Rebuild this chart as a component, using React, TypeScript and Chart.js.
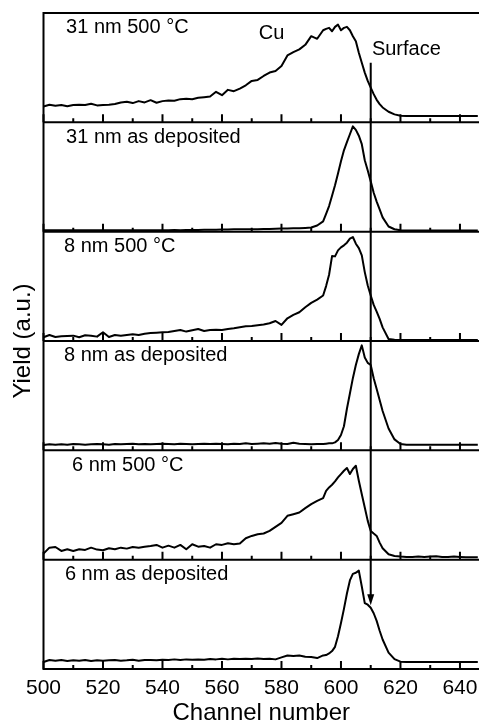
import React, { useEffect, useRef } from 'react';
import { Chart, registerables } from 'chart.js';

Chart.register(...registerables);

const FONT = '"Liberation Sans", Arial, Helvetica, sans-serif';

// Channel numbers (x values shared by all spectra)
const channels = [
  500, 502, 504, 506, 508, 510, 512, 514, 516, 518,
  520, 522, 524, 526, 528, 530, 532, 534, 536, 538,
  540, 542, 544, 546, 548, 550, 552, 554, 556, 558,
  560, 562, 564, 566, 568, 570, 572, 574, 576, 578,
  580, 582, 584, 586, 588, 590, 592, 594,
  595, 596, 597, 598, 599, 600, 601, 602, 603, 604,
  605, 606, 607, 608, 609, 610, 611, 612, 613, 614,
  616, 618, 620, 622, 624, 626, 628, 630, 632, 634,
  636, 638, 640, 642, 644, 646,
];

// Yield (a.u., % of each panel height)
const nm31Annealed = [
  14.5, 16.1, 15.2, 15.8, 14.8, 15.8, 16.1, 15.8, 17.0, 15.5,
  15.8, 16.1, 16.7, 18.2, 18.8, 17.6, 19.4, 18.2, 20.3, 17.9,
  19.4, 20.0, 19.7, 21.2, 21.5, 21.2, 22.4, 23.0, 23.6, 27.9,
  24.8, 29.7, 28.5, 30.9, 33.9, 37.9, 38.8, 42.4, 45.5, 47.0,
  51.5, 61.2, 64.2, 66.7, 70.9, 78.8, 76.4, 84.2,
  85.5, 86.4, 83.3, 87.3, 89.4, 84.2, 86.4, 87.3, 84.2, 78.8,
  74.2, 63.6, 54.5, 45.5, 37.9, 31.8, 25.8, 20.6, 16.7, 13.6,
  9.7, 7.3, 6.1, 5.8, 5.8, 5.8, 5.8, 5.8, 5.8, 5.8,
  5.8, 5.8, 5.8, 5.8, 5.8, 5.8,
];

const nm31Deposited = [
  1.2, 1.3, 1.2, 1.4, 1.3, 1.2, 1.3, 1.4, 1.3, 1.2,
  1.3, 1.4, 1.3, 1.3, 1.2, 1.4, 1.3, 1.3, 1.4, 1.3,
  1.4, 1.3, 1.5, 1.4, 1.5, 1.6, 1.6, 1.7, 1.8, 1.8,
  1.9, 2.0, 2.1, 2.1, 2.2, 2.2, 2.3, 2.4, 2.5, 2.6,
  2.8, 2.8, 3.1, 3.1, 3.4, 3.8, 5.6, 9.4,
  16.3, 23.4, 32.8, 42.5, 53.1, 64.4, 74.4, 81.9, 89.1, 96.3,
  93.1, 87.8, 80.0, 65.3, 56.0, 46.0, 35.6, 27.5, 20.3, 13.1,
  4.7, 2.2, 1.3, 1.1, 1.0, 1.0, 1.0, 1.0, 1.0, 1.0,
  1.0, 1.0, 1.0, 1.0, 1.0, 1.0,
];

const nm8Annealed = [
  3.4, 5.5, 3.7, 4.3, 4.6, 4.9, 3.4, 5.2, 4.9, 4.0,
  8.0, 3.7, 5.5, 4.9, 5.5, 6.1, 5.5, 6.7, 7.3, 7.6,
  8.0, 8.3, 9.2, 10.1, 8.6, 9.8, 11.0, 9.2, 10.1, 10.4,
  10.1, 11.0, 11.6, 12.5, 13.5, 13.8, 14.4, 15.0, 16.2, 18.3,
  14.7, 20.8, 23.9, 26.3, 30.9, 34.9, 37.9, 41.6,
  50.2, 60.6, 77.7, 77.4, 82.9, 85.6, 87.5, 89.9, 93.6, 95.1,
  89.0, 85.0, 78.3, 63.0, 50.8, 41.6, 33.0, 26.9, 20.2, 12.5,
  1.8, 1.2, 0.9, 0.9, 0.9, 0.9, 0.9, 0.9, 0.9, 0.9,
  0.9, 0.9, 0.9, 0.9, 0.9, 0.9,
];

const nm8Deposited = [
  4.8, 5.5, 5.2, 5.5, 5.2, 5.8, 5.5, 5.2, 5.5, 5.8,
  5.5, 5.2, 5.8, 5.5, 5.8, 6.1, 5.5, 5.8, 5.5, 5.8,
  6.1, 5.8, 5.5, 6.1, 5.8, 5.5, 5.8, 6.1, 5.8, 6.1,
  5.8, 5.5, 6.1, 5.8, 6.4, 5.8, 6.1, 6.4, 6.1, 6.7,
  6.1, 5.8, 7.0, 6.1, 5.8, 5.5, 5.8, 5.8,
  6.1, 6.4, 6.4, 7.3, 9.4, 14.0, 22.0, 38.0, 52.0, 66.0,
  78.0, 88.0, 96.0, 85.0, 80.0, 78.0, 66.0, 56.0, 46.0, 36.0,
  20.0, 10.0, 5.8, 5.2, 5.2, 5.2, 5.2, 5.2, 5.2, 5.2,
  5.2, 5.2, 5.2, 5.2, 5.2, 5.2,
];

const nm6Annealed = [
  5.5, 11.0, 11.6, 8.0, 9.5, 8.0, 9.5, 8.9, 11.0, 9.2,
  8.6, 10.4, 9.5, 11.0, 10.1, 11.6, 11.0, 11.9, 12.5, 13.5,
  11.0, 12.8, 11.0, 13.5, 9.5, 14.1, 11.9, 12.5, 11.0, 14.1,
  13.5, 15.0, 14.1, 14.7, 19.6, 21.7, 23.2, 23.9, 26.3, 30.0,
  33.6, 40.1, 41.6, 43.1, 47.1, 50.8, 53.8, 56.3,
  63.0, 66.1, 68.5, 71.6, 75.2, 78.3, 81.3, 83.8, 78.3, 82.9,
  85.9, 72.2, 59.9, 47.7, 35.5, 26.3, 23.9, 21.7, 15.6, 10.4,
  4.9, 3.4, 2.8, 2.4, 2.4, 2.8, 2.4, 2.8, 3.1, 2.4,
  2.4, 2.8, 2.4, 2.1, 2.1, 2.1,
];

const nm6Deposited = [
  6.4, 8.2, 7.6, 8.2, 7.3, 7.9, 7.6, 8.2, 7.3, 7.9,
  7.6, 7.9, 8.2, 7.6, 7.9, 8.5, 7.6, 8.2, 8.2, 7.9,
  8.5, 8.2, 8.8, 8.2, 8.8, 8.5, 8.8, 8.5, 9.1, 8.8,
  9.4, 8.8, 9.4, 9.1, 9.4, 9.1, 9.7, 9.1, 9.4, 8.8,
  10.6, 12.4, 11.8, 12.4, 11.2, 10.9, 10.0, 12.4,
  12.7, 14.2, 16.4, 20.3, 30.0, 42.0, 55.0, 69.0, 81.0, 87.0,
  88.0, 90.0, 75.5, 60.3, 58.8, 56.0, 51.0, 44.0, 35.0, 27.0,
  15.0, 9.0, 6.7, 6.4, 6.4, 6.4, 6.4, 6.4, 6.4, 6.4,
  6.4, 6.4, 6.4, 6.4, 6.4, 6.4,
];

const panelLabels = [
  '31 nm 500 °C',
  '31 nm as deposited',
  '8 nm 500 °C',
  '8 nm as deposited',
  '6 nm 500 °C',
  '6 nm as deposited',
];
const panelLabelChannel = [507.6, 507.6, 506.9, 506.9, 509.6, 507.2];
const panelLabelLevel = 81.5;

const majorTicks = [500, 520, 540, 560, 580, 600, 620, 640];
const minorTicks = [510, 530, 550, 570, 590, 610, 630];

const xMin = 500;
const xMax = 646.4;

const surfaceChannel = 610;
const arrowStartLevel = 54.5; // on top panel
const arrowTipLevel = 58.2; // on bottom panel

const cuLabel = { text: 'Cu', channel: 572.4, level: 76.4 };
const surfaceLabel = { text: 'Surface', channel: 610.4, level: 61.8 };

const series = [nm31Annealed, nm31Deposited, nm8Annealed, nm8Deposited, nm6Annealed, nm6Deposited];
const panelKeys = ['y1', 'y2', 'y3', 'y4', 'y5', 'y6'];

const overlayPlugin = {
  id: 'overlay',
  afterDraw(chart: any) {
    const ctx = chart.ctx as CanvasRenderingContext2D;
    const xs = chart.scales.x;
    const area = chart.chartArea;
    const ys = panelKeys.map((k) => chart.scales[k]);
    ctx.save();
    ctx.strokeStyle = '#000';
    ctx.fillStyle = '#000';
    ctx.lineWidth = 2;
    ctx.lineCap = 'butt';

    // frame: left edge, top and panel separators
    ctx.beginPath();
    ctx.moveTo(area.left, ys[0].top - 1);
    ctx.lineTo(area.left, ys[5].bottom + 1);
    ctx.moveTo(area.left - 1, ys[0].top);
    ctx.lineTo(area.right + 2, ys[0].top);
    ys.forEach((s: any) => {
      ctx.moveTo(area.left - 1, s.bottom);
      ctx.lineTo(area.right + 2, s.bottom);
    });
    ctx.stroke();

    // inward tick marks at the bottom of every panel
    ctx.beginPath();
    ys.forEach((s: any) => {
      majorTicks.forEach((v) => {
        const px = xs.getPixelForValue(v);
        ctx.moveTo(px, s.bottom);
        ctx.lineTo(px, s.bottom - 8);
      });
      minorTicks.forEach((v) => {
        const px = xs.getPixelForValue(v);
        ctx.moveTo(px, s.bottom);
        ctx.lineTo(px, s.bottom - 4);
      });
    });
    ctx.stroke();

    // panel labels
    ctx.font = `20px ${FONT}`;
    ctx.textAlign = 'left';
    ctx.textBaseline = 'alphabetic';
    ys.forEach((s: any, i: number) => {
      ctx.fillText(panelLabels[i], xs.getPixelForValue(panelLabelChannel[i]), s.getPixelForValue(panelLabelLevel));
    });
    ctx.fillText(cuLabel.text, xs.getPixelForValue(cuLabel.channel), ys[0].getPixelForValue(cuLabel.level));
    ctx.fillText(surfaceLabel.text, xs.getPixelForValue(surfaceLabel.channel), ys[0].getPixelForValue(surfaceLabel.level));

    // surface arrow
    const ax = xs.getPixelForValue(surfaceChannel);
    const yStart = ys[0].getPixelForValue(arrowStartLevel);
    const yTip = ys[5].getPixelForValue(arrowTipLevel);
    ctx.beginPath();
    ctx.moveTo(ax, yStart);
    ctx.lineTo(ax, yTip - 8);
    ctx.stroke();
    ctx.beginPath();
    ctx.moveTo(ax - 3.5, yTip - 11);
    ctx.lineTo(ax + 3.5, yTip - 11);
    ctx.lineTo(ax, yTip);
    ctx.closePath();
    ctx.fill();
    ctx.restore();
  },
};

function panelScale(i: number) {
  return {
    type: 'linear',
    position: 'left',
    stack: 'panels',
    stackWeight: 1,
    weight: 6 - i,
    min: 0,
    max: 100,
    display: true,
    ticks: { display: false },
    grid: { display: false, drawTicks: false },
    border: { display: false },
    afterFit: (s: any) => {
      s.width = 0;
    },
  };
}

export default function App() {
  const ref = useRef<HTMLCanvasElement>(null);

  useEffect(() => {
    const canvas = ref.current;
    if (!canvas) return;

    const scales: any = {
      x: {
        type: 'linear',
        position: 'bottom',
        min: xMin,
        max: xMax,
        grid: { display: false, drawTicks: false },
        border: { display: false },
        afterBuildTicks: (s: any) => {
          s.ticks = majorTicks.map((v) => ({ value: v }));
        },
        ticks: {
          color: '#000',
          font: { family: FONT, size: 21 },
          padding: 7,
          maxRotation: 0,
          autoSkip: false,
        },
        title: {
          display: true,
          text: 'Channel number',
          color: '#000',
          font: { family: FONT, size: 24 },
          padding: 0,
        },
        afterFit: (s: any) => {
          s.height = 59;
          s.paddingLeft = 0;
          s.paddingRight = 0;
        },
      },
      yt: {
        type: 'linear',
        position: 'left',
        weight: 10,
        display: true,
        ticks: { display: false },
        grid: { display: false, drawTicks: false },
        border: { display: false },
        title: {
          display: true,
          text: 'Yield (a.u.)',
          color: '#000',
          font: { family: FONT, size: 24 },
          padding: { top: 9, bottom: 0 },
        },
        afterFit: (s: any) => {
          s.width = 43.5;
        },
      },
    };
    panelKeys.forEach((k, i) => {
      scales[k] = panelScale(i);
    });

    const chart = new Chart(canvas, {
      type: 'line',
      data: {
        datasets: series.map((vals, i) => ({
          data: channels.map((c, j) => ({ x: c, y: vals[j] })),
          yAxisID: panelKeys[i],
          borderColor: '#000',
          borderWidth: 2,
          pointRadius: 0,
          tension: 0,
          fill: false,
          borderJoinStyle: 'round',
        })),
      },
      options: {
        responsive: false,
        animation: false,
        events: [],
        layout: { padding: { top: 13, left: 0, right: 0, bottom: 0 } },
        plugins: {
          legend: { display: false },
          tooltip: { enabled: false },
          title: { display: false },
        },
        scales,
      } as any,
      plugins: [overlayPlugin],
    });

    return () => chart.destroy();
  }, []);

  return (
    <div style={{ position: 'fixed', left: 0, top: 0, width: 479, height: 728, background: '#fff' }}>
      <canvas ref={ref} width={479} height={728} style={{ display: 'block', width: 479, height: 728 }} />
    </div>
  );
}
